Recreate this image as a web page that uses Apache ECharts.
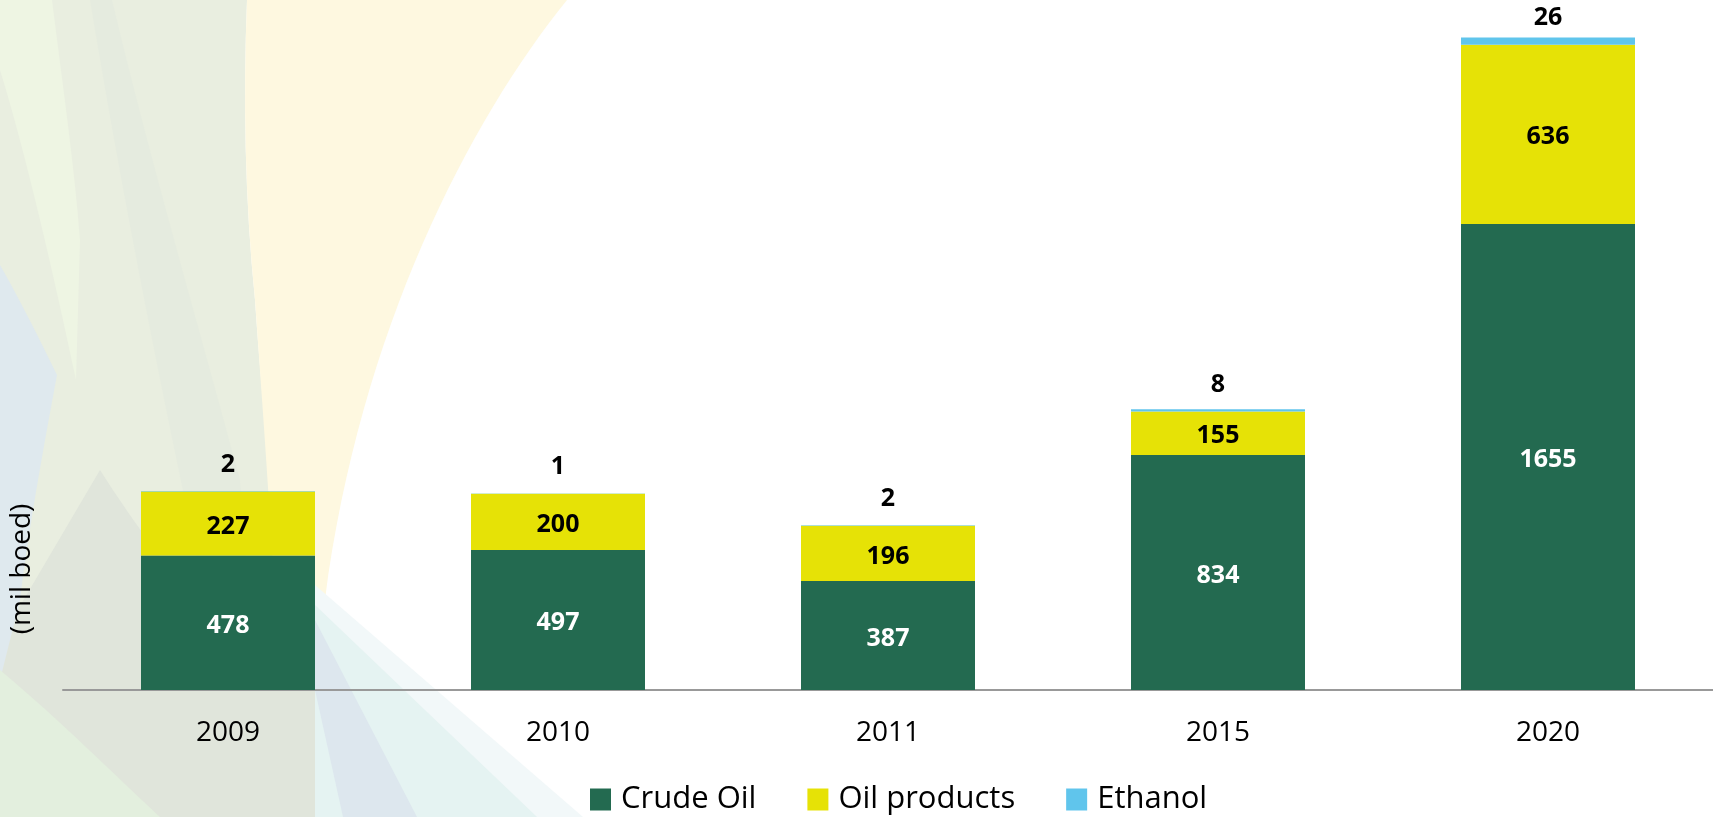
<!DOCTYPE html>
<html>
<head>
<meta charset="utf-8">
<script src="https://cdn.jsdelivr.net/npm/echarts@6/dist/echarts.min.js"></script>
<style>
html,body{margin:0;padding:0;background:#fff;}
#chart{width:1713px;height:817px;}
</style>
</head>
<body>
<div id="chart"></div>
<script>
const categories = ['2009', '2010', '2011', '2015', '2020'];
const crudeOil = [478, 497, 387, 834, 1655];
const oilProducts = [227, 200, 196, 155, 636];
const ethanol = [2, 1, 2, 8, 26];
const seriesNames = ['Crude Oil', 'Oil products', 'Ethanol'];
const yAxisTitle = '(mil boed)';

const FONT = '"Open Sans", "DejaVu Sans", sans-serif';

const bg = [
  // left base
  {d: 'M0,0 L247,0 C243,100 245,200 255,300 C265,450 285,600 300,817 L0,817 Z', c: '#E9EEE0'},
  // light green top-left strip
  {d: 'M0,0 L52,0 C62,80 75,170 80,240 L76,380 C55,280 25,150 0,70 Z', c: '#EEF5E3'},
  // subtle darker band
  {d: 'M90,0 L112,0 C150,160 200,330 240,480 L255,690 L225,690 C190,520 140,300 90,0 Z', c: '#E5EBDF'},
  // cream
  {d: 'M247,0 L567,0 C470,120 360,330 325,600 L318,690 L280,690 C270,500 262,400 255,300 C245,200 243,100 247,0 Z', c: '#FEF8E0'},
  // lower greyish area
  {d: 'M100,470 C170,580 250,670 315,690 L315,817 L0,817 L0,640 Z', c: '#E0E5DB'},
  // bluish wedge left
  {d: 'M0,265 C20,300 40,340 57,375 C45,440 30,520 20,600 L0,680 Z', c: '#DFE9EE'},
  // light green bottom-left
  {d: 'M0,670 C60,720 120,780 160,817 L0,817 Z', c: '#E3EFDE'},
  // pale band
  {d: 'M315,585 L583,817 L315,817 Z', c: '#F2F8F9'},
  // cyan band
  {d: 'M315,605 L537,817 L315,817 Z', c: '#E5F3F2'},
  // blue-grey band
  {d: 'M315,620 L417,817 L343,817 L315,690 Z', c: '#DDE7EE'}
];

const graphics = [];
bg.forEach((b, i) => {
  echarts.graphic.registerShape('bgshape' + i, echarts.graphic.extendPath(b.d, {}));
  graphics.push({type: 'bgshape' + i, silent: true, z: -10, style: {fill: b.c}});
});
graphics.push({
  type: 'text', silent: true, z: 5,
  x: 22, y: 569, rotation: Math.PI / 2,
  style: {text: yAxisTitle, font: '28px ' + FONT, fill: '#000', align: 'center', verticalAlign: 'middle'}
});

const chart = echarts.init(document.getElementById('chart'));

const innerLabel = (color) => ({
  show: true, position: 'inside', color: color, offset: [0, 3],
  fontFamily: FONT, fontWeight: 'bold', fontSize: 25
});

chart.setOption({
  animation: false,
  backgroundColor: '#fff',
  graphic: graphics,
  grid: {left: 63, right: 0, top: 0, bottom: 127},
  legend: {
    data: seriesNames, left: 590, top: 784, padding: 0,
    icon: 'rect', itemWidth: 21, itemHeight: 22, itemGap: 51,
    textStyle: {fontFamily: FONT, fontSize: 31, color: '#000', padding: [0, 0, 0, 5]}
  },
  xAxis: {
    type: 'category', data: categories,
    axisLine: {lineStyle: {color: '#999', width: 2}},
    axisTick: {show: false},
    axisLabel: {fontFamily: FONT, fontSize: 28, color: '#000', margin: 29, lineHeight: 28}
  },
  yAxis: {
    type: 'value', min: 0, max: 2450, show: false,
    splitLine: {show: false}
  },
  series: [
    {name: seriesNames[0], type: 'bar', stack: 's', barWidth: 174, data: crudeOil,
     itemStyle: {color: '#236A50'}, label: innerLabel('#fff')},
    {name: seriesNames[1], type: 'bar', stack: 's', barWidth: 174, data: oilProducts,
     itemStyle: {color: '#E6E206'}, label: innerLabel('#000')},
    {name: seriesNames[2], type: 'bar', stack: 's', barWidth: 174, data: ethanol,
     itemStyle: {color: '#60C5EC'},
     label: {show: true, position: 'insideBottom', distance: 14, color: '#000',
             fontFamily: FONT, fontWeight: 'bold', fontSize: 25}}
  ]
});
</script>
</body>
</html>
